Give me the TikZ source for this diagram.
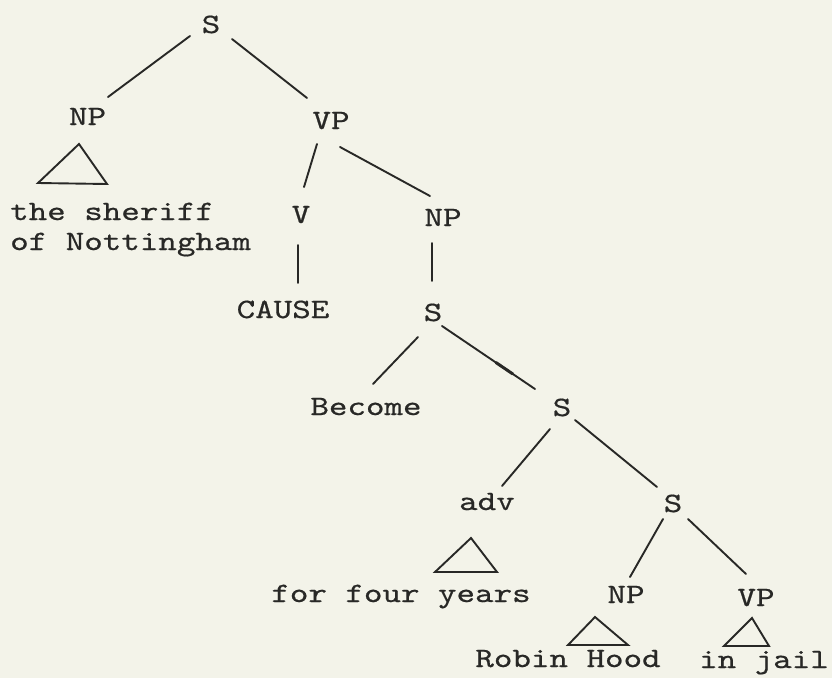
\documentclass[tikz,border=0pt]{standalone}
\usepackage{fontspec}
\usetikzlibrary{calc}
\newfontfamily\typewriter{lmmono10-regular}[Extension=.otf, FakeStretch=1.26, FakeBold=0.6]
\definecolor{paper}{RGB}{243,243,233}
\definecolor{ink}{RGB}{40,40,38}

\begin{document}
\begin{tikzpicture}[x=1pt,y=-1pt,
  lbl/.style={inner sep=0pt, text=ink, anchor=base,
    font=\typewriter\fontsize{28}{30}\selectfont,
    text height=17pt, text depth=0pt},
  leaf/.style={lbl},
  branch/.style={draw=ink, line width=1.9pt, line cap=round},
  roof/.style={draw=ink, line width=1.9pt, line join=miter}]

% paper
\fill[paper] (0,0) rectangle (832,678);
\useasboundingbox (0,0) rectangle (832,678);

% category labels
\node[lbl] (s0)     at (211,33)  {S};
\node[lbl] (np1)    at (87.5,125) {NP};
\node[lbl] (vp1)    at (331,129) {VP};
\node[lbl] (v)      at (301,223) {V};
\node[lbl] (cause)  at (283,318) {CAUSE};
\node[lbl] (np2)    at (443,226) {NP};
\node[lbl] (s2)     at (433,321) {S};
\node[lbl] (become) at (366,415) {Become};
\node[lbl] (s3)     at (562,416) {S};
\node[lbl] (adv)    at (487,510) {adv};
\node[lbl] (s4)     at (673,512) {S};
\node[lbl] (np3)    at (626,603) {NP};
\node[lbl] (vp3)    at (756,606) {VP};

% terminal strings
\node[leaf, anchor=base west] (sheriffa) at (10,220) {the sheriff};
\node[leaf, anchor=base west] (sheriffb) at (10,250) {of Nottingham};
\node[leaf] (years) at (401,602) {for four years};
\node[leaf] (robin) at (568,667) {Robin Hood};
\node[leaf] (jail)  at (764,668) {in jail};

% branches
\draw[branch] ($(s0)+(-21,11.5)$) -- ($(np1)+(20.5,-19.5)$);
\draw[branch] ($(s0)+(21,14.5)$) -- ($(vp1)+(-24,-22.5)$);
\draw[branch] ($(vp1)+(-14,23.5)$) -- ($(v)+(3,-27.5)$);
\draw[branch] ($(vp1)+(9,26.5)$) -- ($(np2)+(-13,-21.5)$);
\draw[branch] ($(v)+(-3,30.5)$) -- ($(cause)+(15,-26.5)$);
\draw[branch] ($(np2)+(-11,25.5)$) -- ($(s2)+(-1,-31.5)$);
\draw[branch] ($(s2)+(-15,24.5)$) -- ($(become)+(7,-22.5)$);
\coordinate (ea) at ($(s2)+(9,13.5)$);
\coordinate (eb) at ($(s3)+(-27,-18.5)$);
\draw[branch] (ea) -- (eb);
\draw[branch, line width=3pt] ($(ea)!0.58!(eb)$) -- ($(ea)!0.76!(eb)$);
\draw[branch] ($(s3)+(-12,21.5)$) -- ($(adv)+(15,-15.5)$);
\draw[branch] ($(s3)+(13,12.5)$) -- ($(s4)+(-16,-16.5)$);
\draw[branch] ($(s4)+(-10,15.5)$) -- ($(np3)+(4,-17.5)$);
\draw[branch] ($(s4)+(15,15.5)$) -- ($(vp3)+(-10,-23.5)$);

% triangles over unanalysed constituents
\draw[roof] (79,144) -- (38,183) -- (107,184) -- cycle;
\draw[roof] (471,538) -- (435,572) -- (497,572) -- cycle;
\draw[roof] (595,617) -- (568,645) -- (628,645) -- cycle;
\draw[roof] (752,618) -- (724,646) -- (769,646) -- cycle;
\end{tikzpicture}
\end{document}
